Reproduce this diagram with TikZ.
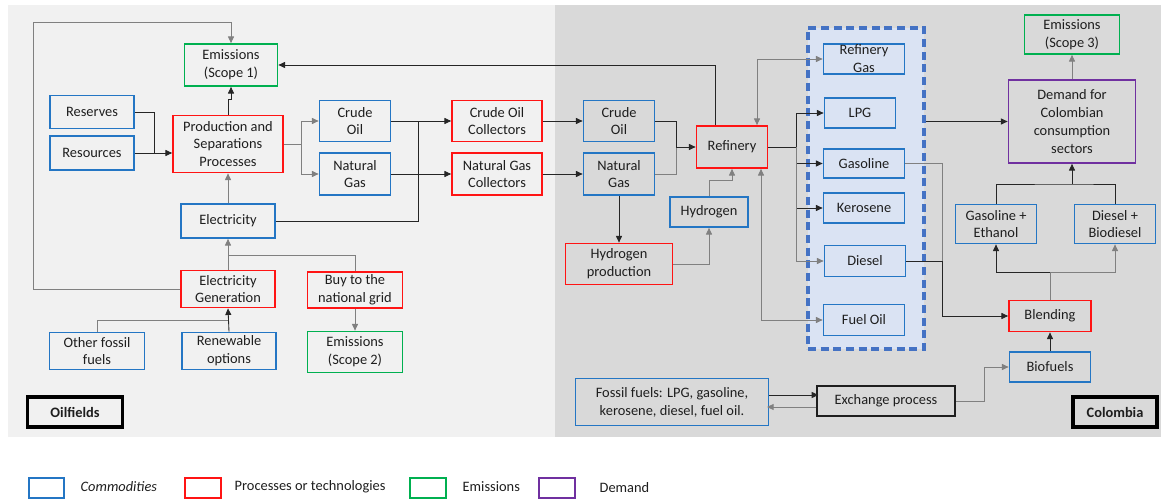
\documentclass[tikz,border=0pt]{standalone}
\usepackage{fontspec}
\setmainfont{Carlito}
\usetikzlibrary{arrows.meta,calc}
\definecolor{cblue}{RGB}{36,118,196}
\definecolor{cred}{RGB}{255,20,20}
\definecolor{cgreen}{RGB}{0,176,80}
\definecolor{cpurple}{RGB}{112,48,160}
\definecolor{dblue}{RGB}{68,114,196}
\definecolor{pbfill}{RGB}{218,227,243}
\definecolor{bgleft}{RGB}{241,241,241}
\definecolor{bgright}{RGB}{217,217,217}
\definecolor{ink}{RGB}{30,30,30}
\definecolor{lgray}{RGB}{128,128,128}
\tikzset{
  sz/.style 2 args={minimum width=#1*0.75pt, minimum height=#2*0.75pt},
  box/.style={draw, line width=1.3pt, inner sep=0pt, align=center, text=ink,
    font=\fontsize{10.8}{13.4}\selectfont},
  comm/.style={box, draw=cblue},
  proc/.style={box, draw=cred},
  emis/.style={box, draw=cgreen},
  dem/.style={box, draw=cpurple},
  plain/.style={box, draw=ink, line width=1.5pt},
  region/.style={box, draw=black, line width=2.4pt, font=\fontsize{10.8}{13.4}\selectfont\bfseries},
  tip/.tip={Triangle[length=5pt,width=4.5pt]},
  ln/.style={draw=black!85, line width=0.65pt},
  gln/.style={draw=lgray, line width=0.65pt},
  arr/.style={ln, -tip},
  garr/.style={gln, -tip},
  gboth/.style={gln, tip-tip},
  legtext/.style={anchor=west, text=ink, font=\fontsize{10.8}{13.4}\selectfont},
}
\begin{document}
\begin{tikzpicture}[x=0.75pt,y=-0.75pt]
\useasboundingbox (0,0) rectangle (1161,499);
% panels
\fill[bgleft] (8,5) rectangle (555,437);
\fill[bgright] (555,5) rectangle (1161,437);
% refinery products group
\node[draw=dblue, fill=pbfill, line width=2.5pt, dash pattern=on 6pt off 3.5pt, sz={116}{321}, inner sep=0pt] (PB) at (866,188.5) {};

% ---------- Oilfields ----------
\node[emis, sz={93}{42}] (Em1) at (231,65) {Emissions\\(Scope 1)};
\node[comm, sz={84}{33}] (Res) at (92,112) {Reserves};
\node[comm, sz={84}{34}] (Resu) at (92,153) {Resources};
\node[proc, sz={110}{57}] (Prod) at (228,144) {Production and\\Separations\\Processes};
\node[comm, sz={94}{34}] (Elec) at (228,221) {Electricity};
\node[comm, sz={71}{41}] (CrudeL) at (355,121) {Crude\\Oil};
\node[comm, sz={71}{42}] (GasL) at (355,174) {Natural\\Gas};
\node[proc, sz={90}{41}] (COC) at (497,121) {Crude Oil\\Collectors};
\node[proc, sz={90}{42}] (NGC) at (497,174) {Natural Gas\\Collectors};
\node[proc, sz={94}{37}] (EGen) at (228,289) {Electricity\\Generation};
\node[proc, sz={95}{36}] (Buy) at (355,290) {Buy to the\\national grid};
\node[comm, sz={95}{37}] (Other) at (97,351) {Other fossil\\fuels};
\node[comm, sz={94}{37}] (Renew) at (229,351) {Renewable\\options};
\node[emis, sz={95}{41}] (Em2) at (355,352) {Emissions\\(Scope 2)};
\node[region, sz={95}{30}] (Oil) at (75,412) {Oilfields};

% ---------- Colombia ----------
\node[comm, sz={71}{41}] (CrudeR) at (619,121) {Crude\\Oil};
\node[comm, sz={71}{42}] (GasR) at (619,174) {Natural\\Gas};
\node[proc, sz={71}{42}] (Ref) at (732,147) {Refinery};
\node[comm, sz={78}{30}] (H2) at (709,212) {Hydrogen};
\node[proc, sz={107}{41}] (H2P) at (619,264) {Hydrogen\\production};
\node[comm, sz={81}{30}] (RGas) at (864,59) {Refinery\\Gas};
\node[comm, sz={71}{30}] (LPG) at (860,113) {LPG};
\node[comm, sz={81}{29}] (Gsl) at (864,163.5) {Gasoline};
\node[comm, sz={81}{30}] (Ker) at (864,208) {Kerosene};
\node[comm, sz={81}{31}] (Dsl) at (865,261) {Diesel};
\node[comm, sz={81}{31}] (FO) at (864,320) {Fuel Oil};
\node[emis, sz={95}{39}] (Em3) at (1072,34.5) {Emissions\\(Scope 3)};
\node[dem, sz={127}{83}] (Dem) at (1072,121.5) {Demand for\\Colombian\\consumption\\sectors};
\node[comm, sz={81}{39}] (GE) at (996,224) {Gasoline +\\Ethanol};
\node[comm, sz={81}{39}] (DB) at (1115,224) {Diesel +\\Biodiesel};
\node[proc, sz={82}{31}] (Blend) at (1050,316) {Blending};
\node[comm, sz={81}{30}] (Bio) at (1050,367) {Biofuels};
\node[plain, sz={138}{30}] (Ex) at (886,401) {Exchange process};
\node[comm, sz={193}{47}] (FF) at (672,402) {Fossil fuels: LPG, gasoline,\\kerosene,\ diesel, fuel oil.};
\node[region, sz={84}{30}] (Col) at (1115,412) {Colombia};

% ---------- connectors: oilfields ----------
\coordinate (loopA) at (33,22);
\draw[garr] (EGen.west) -| (loopA) -| (Em1.north);
\draw[arr] (Prod.north) -- ++(0,-15) -| (Em1.south);
\draw[ln] (Res.east) -| ($(Resu.east)+(20,0)$);
\draw[arr] (Resu.east) -- (Resu.east -| Prod.west);
\draw[garr] (Elec.north) -- (Prod.south);
\draw[garr] (EGen.north) -- (Elec.south);
\coordinate (eJ) at (228,255);
\draw[gln] (Buy.north) |- (eJ);
\coordinate (gJ) at (228,320);
\draw[gln] (Other.north) |- (gJ);
\draw[arr] (Renew.north) -- (EGen.south);
\draw[garr] (Buy.south) -- (Em2.north);
\coordinate (pJ) at (301,144);
\draw[gln] (Prod.east) -- (pJ);
\draw[garr] (pJ) |- (CrudeL.west);
\draw[garr] (pJ) |- (GasL.west);
\draw[arr] (CrudeL.east) -- (COC.west);
\draw[arr] (GasL.east) -- (NGC.west);
\coordinate (eJ2) at (418,121);
\draw[ln] (Elec.east) -| (eJ2);

% ---------- connectors: colombia ----------
\draw[arr] (COC.east) -- (CrudeR.west);
\draw[arr] (NGC.east) -- (GasR.west);
\coordinate (rJ) at (676,147);
\draw[ln] (CrudeR.east) -| (rJ);
\draw[gln] (GasR.east) -| (rJ);
\draw[arr] (rJ) -- (Ref.west);
\draw[arr] (GasR.south) -- (H2P.north);
\draw[garr] (H2P.east) -| (H2.south);
\draw[garr] (H2.north) -- ++(0,-16) -| (Ref.south);
\draw[arr] ($(Ref.north)+(-17,0)$) |- (Em1.east);
\draw[gboth] ($(Ref.north)+(25,0)$) |- (RGas.west);
\coordinate (oJ) at (796,147);
\draw[ln] (Ref.east) -- (oJ);
\draw[arr] (oJ) |- (LPG.west);
\draw[arr] (oJ) |- (Gsl.west);
\draw[arr] (oJ) |- (Ker.west);
\draw[garr] (oJ) |- (Dsl.west);
\draw[gboth] ($(Ref.south)+(29,0)$) |- (FO.west);
\draw[arr] (PB.east |- Dem.west) -- (Dem.west);
\draw[garr] (Dem.north) -- (Em3.south);
\coordinate (dJ) at (1072,184);
\draw[ln] (GE.north) |- (dJ) -| (DB.north);
\draw[arr] (dJ) -- (Dem.south);
\coordinate (bJ) at (942,316);
\draw[gln] (Gsl.east) -| (bJ);
\draw[ln] (Dsl.east) -| (bJ);
\draw[arr] (bJ) -- (Blend.west);
\coordinate (blJ) at (1050,272);
\draw[gln] (Blend.north) -- (blJ);
\draw[arr] (blJ) -| (GE.south);
\draw[garr] (blJ) -| (DB.south);
\draw[arr] (Bio.north) -- (Blend.south);
\draw[garr] (Ex.east) -- ++(28,0) |- (Bio.west);
\draw[arr] ($(FF.east)+(0,-7)$) -- ++(49,0);
\draw[garr] ($(Ex.west)+(0,6)$) -- ++(-49,0);

% ---------- legend ----------
\node[draw=cblue, line width=1pt, sz={35}{20}, inner sep=0pt] (LgB) at (46.5,488) {};
\node[legtext] (LtB) at (76,487) {\itshape Commodities};
\node[draw=cred, line width=1pt, sz={36}{20}, inner sep=0pt] (LgR) at (203,488) {};
\node[legtext] (LtR) at (230,487) {Processes or technologies};
\node[draw=cgreen, line width=1pt, sz={36}{20}, inner sep=0pt] (LgG) at (428,488) {};
\node[legtext] (LtG) at (458,487) {Emissions};
\node[draw=cpurple, line width=1pt, sz={36}{20}, inner sep=0pt] (LgP) at (557,488) {};
\node[legtext] (LtP) at (595,488) {Demand};
\end{tikzpicture}
\end{document}
